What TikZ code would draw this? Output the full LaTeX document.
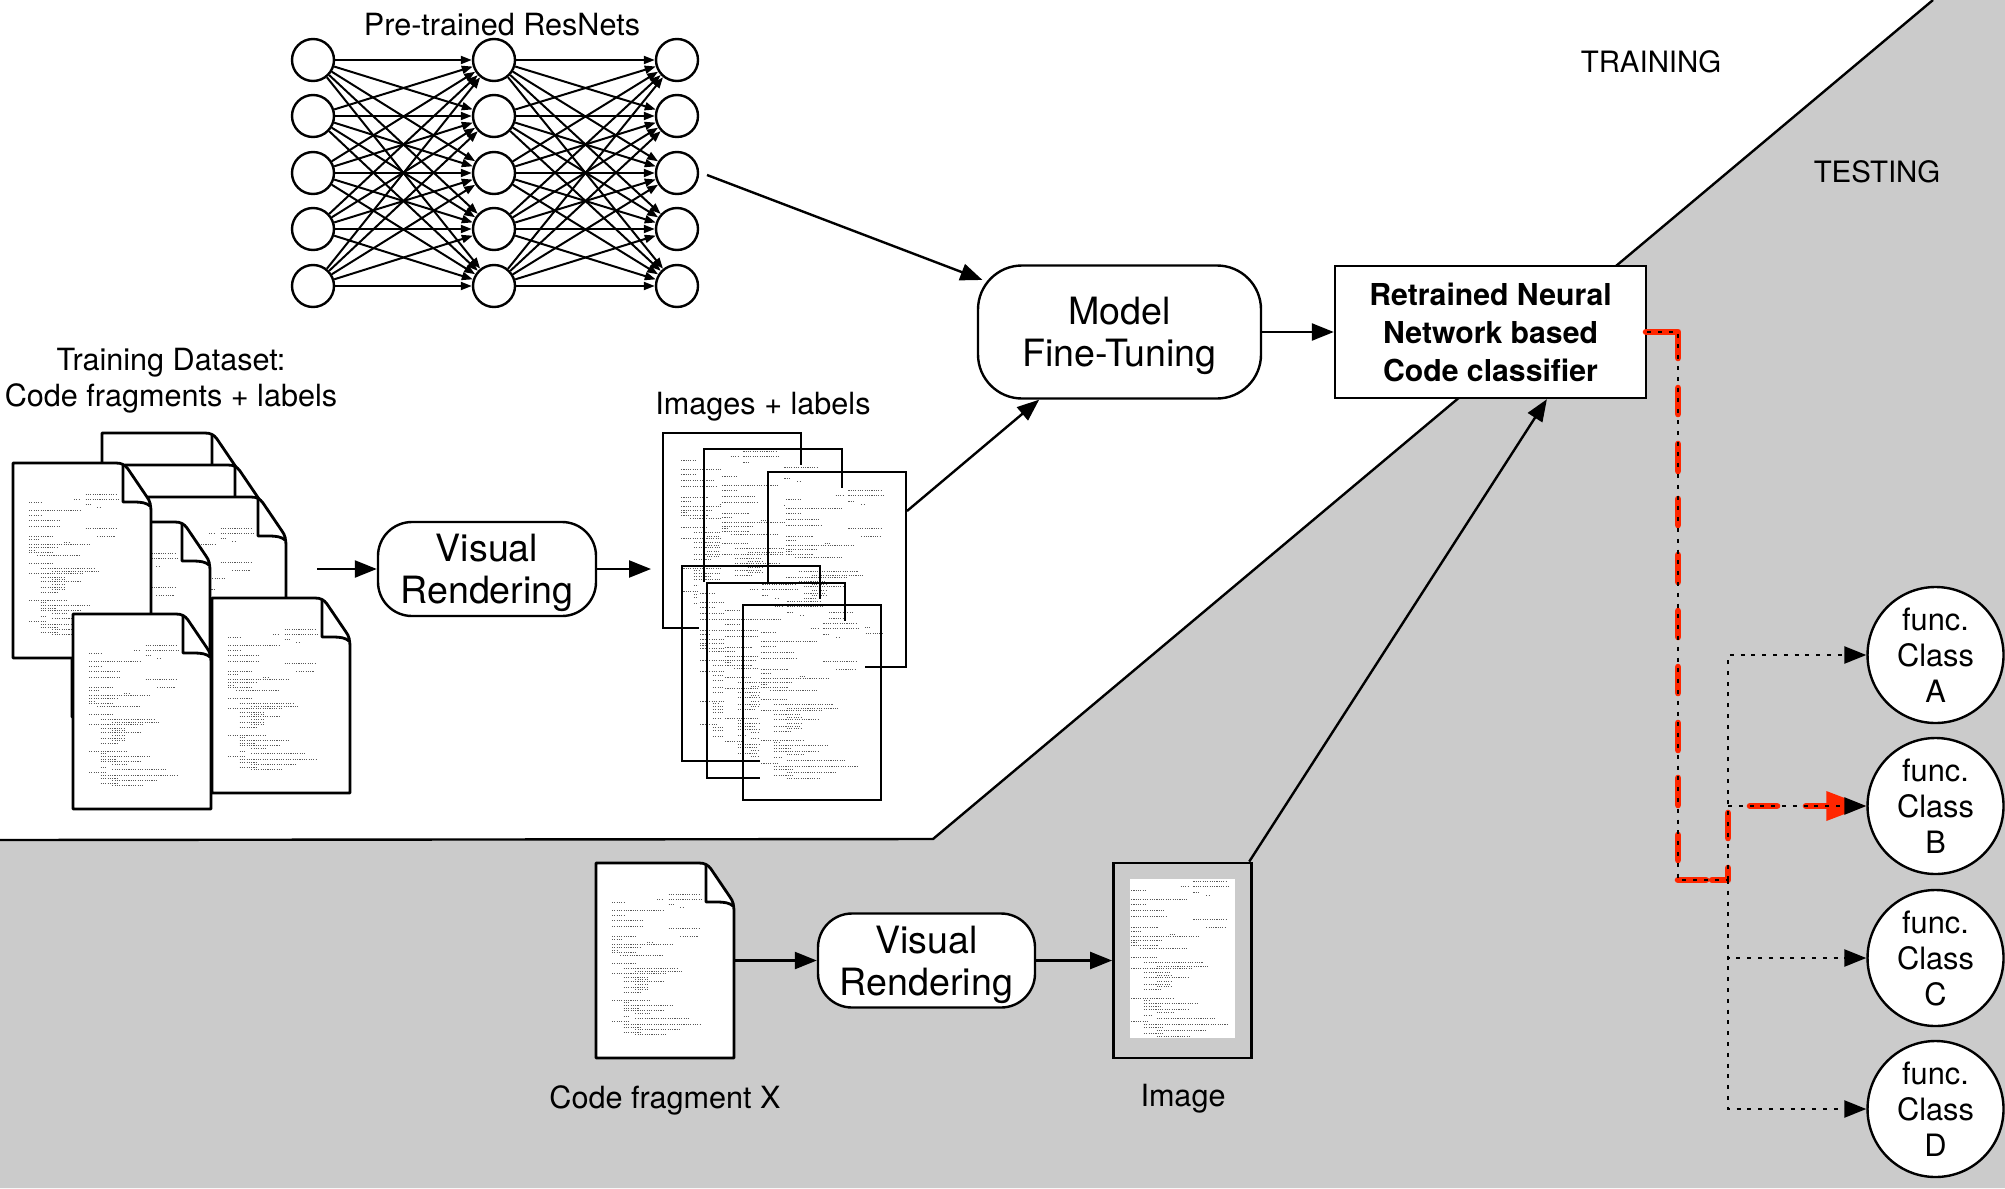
\documentclass[tikz,border=0pt]{standalone}
\usepackage{fontspec}
\setmainfont{TeX Gyre Heros}
\usetikzlibrary{arrows.meta,calc}
\definecolor{bandgray}{RGB}{203,203,203}
\definecolor{pathred}{RGB}{255,38,0}
\newcommand{\lowerstrut}{\rule{0pt}{17.6pt}}
\tikzset{
  txt/.style={inner sep=0pt,font=\fontsize{15.3}{18}\selectfont,align=center},
  zonetxt/.style={inner sep=0pt,font=\fontsize{14.7}{18}\selectfont},
  bigtxt/.style={font=\fontsize{18.8}{21}\selectfont,align=center},
  softbox/.style={draw,fill=white,line width=1.2pt,rounded corners=17pt,inner sep=0pt},
  conn/.style={line width=1.2pt,-{Triangle[length=11pt,width=8.5pt]}},
  netlink/.style={line width=1pt,-{Triangle[length=5.5pt,width=4pt]}},
  neuron/.style={circle,draw,fill=white,line width=1.2pt,minimum size=21pt,inner sep=0pt},
  classnode/.style={circle,draw,fill=white,line width=1.2pt,minimum size=68pt,inner sep=0pt,font=\fontsize{15.4}{18}\selectfont,align=center},
  pagestroke/.style={line width=1.4pt,line join=round},
  codeink/.style={line width=0.35pt,black!65,dash pattern=on 0.55pt off 0.6pt},
  dotline/.style={line width=1.2pt,dash pattern=on 2pt off 3.4pt},
  dotarrow/.style={dotline,-{Triangle[length=11pt,width=8.5pt,sep=0pt]}},
  redline/.style={pathred,line width=3.3pt,line cap=round,line join=round},
}
\newcommand{\codemarks}{%
  \foreach \v/\a/\b in {627/855/945,641/820/840,641/855/955,651/685/725,657/855/870,665/890/900,675/685/840,690/685/725,705/685/775,722/685/780,730/855/945,752/685/760,752/890/945,762/685/715,770/790/805,776/685/870,786/685/770,794/685/700,800/685/760,810/710/840,833/685/755,848/720/880,857/755/895,864/685/850,875/720/790,882/755/795,888/720/840,898/755/795,906/720/790,913/755/795,920/720/770,945/685/800,952/720/735,960/720/865,968/720/765,975/720/840,983/755/800,992/720/740,999/755/915,1008/685/735,1017/720/950,1025/720/775,1033/755/890,1041/720/775,1048/755/845}
  {\draw[codeink] ({(\a-637)/3},{(\v-533)/3}) -- ({(\b-637)/3},{(\v-533)/3});}%
}
\newcommand{\docpage}[2]{%
  \begin{scope}[shift={(#1,#2)}]
    \fill[white] (0,0) -- (103,0) .. controls (109,0) and (112,2) .. (115,6) -- (134,34) .. controls (137,38) and (138,42) .. (138,50) -- (138,195) -- (0,195) -- cycle;
    \codemarks
    \draw[pagestroke] (0,0) -- (103,0) .. controls (109,0) and (112,2) .. (115,6) -- (134,34) .. controls (137,38) and (138,42) .. (138,50) -- (138,195) -- (0,195) -- cycle;
    \draw[pagestroke] (110,1) -- (110,39) -- (122,39) .. controls (128,39) and (134,40) .. (137,43);
  \end{scope}%
}
\newcommand{\imgpage}[2]{%
  \begin{scope}[shift={(#1,#2)}]
    \draw[pagestroke,line join=miter] (0,0) rectangle (138,195);
    \fill[white] (17,16) rectangle (122,175);
    \begin{scope}[shift={(17,16)},scale=1.1,shift={(-15,-29)}]
      \codemarks
    \end{scope}
  \end{scope}%
}
\begin{document}
\begin{tikzpicture}[x=0.5pt,y=-0.5pt]
\useasboundingbox (0,0) rectangle (2005,1188);
% bands
\fill[white] (0,0) rectangle (2005,1188);
\fill[bandgray] (0,840) -- (933,839) -- (1933,0) -- (2005,0) -- (2005,1188) -- (0,1188) -- cycle;
\coordinate (bandA) at (0,840);
\coordinate (bandB) at (933,839);
\coordinate (bandC) at (1933,0);
\draw[line width=1.2pt] (bandA) -- (bandB) -- (bandC);
\node[zonetxt] (training) at (1651,62) {TRAINING};
\node[zonetxt] (testing) at (1877,172) {TESTING};
% network
\foreach \c/\x in {1/313,2/494,3/677}
  \foreach \r/\y in {1/60,2/116,3/173,4/229,5/286}
    \node[neuron] (n\c-\r) at (\x,\y) {};
\foreach \i in {1,...,5}
  \foreach \j in {1,...,5} {
    \draw[netlink] (n1-\i) -- (n2-\j);
    \draw[netlink] (n2-\i) -- (n3-\j);
  }
\node[txt] (nettitle) at (502,25) {Pre-trained ResNets};
\node[txt] (dstitle) at (171,381) {Training Dataset:\\Code fragments + labels};
\node[txt] (imgtitle) at (763,407) {Images + labels};
% training documents
\docpage{102}{433}
\docpage{125}{465}
\docpage{148}{497}
\docpage{72}{522}
\docpage{13}{463}
\docpage{212}{598}
\docpage{73}{614}
\coordinate (docsOut) at (317,569);
% training images
\imgpage{663}{433}
\imgpage{704}{449}
\imgpage{768}{472}
\imgpage{682}{566}
\imgpage{707}{583}
\imgpage{743}{605}
\coordinate (imagesOut) at (907,511);
\coordinate (imagesIn) at (651,569);
% boxes
\node[softbox,bigtxt,minimum width=109pt,minimum height=47pt] (vrTop) at (487,569) {\lowerstrut Visual\\Rendering};
\node[softbox,bigtxt,minimum width=141.5pt,minimum height=66.5pt,rounded corners=22pt] (model) at (1119.5,332) {\lowerstrut Model\\Fine-Tuning};
\node[draw,fill=white,line width=1.2pt,minimum width=155.5pt,minimum height=66pt,inner sep=0pt,font=\fontsize{15.1}{19}\selectfont\bfseries,align=center] (clf) at (1490.5,332) {Retrained Neural\\Network based\\Code classifier};
\node[softbox,bigtxt,minimum width=108.5pt,minimum height=47pt] (vrBot) at (926.5,960.5) {\lowerstrut Visual\\Rendering};
% testing document and image
\docpage{596}{863}
\coordinate (docXOut) at (734,960.5);
\node[draw,line width=1.4pt,minimum width=69pt,minimum height=97.5pt,inner sep=0pt] (img) at (1182.5,960.5) {};
\fill[white] (1130,879) rectangle (1235,1038);
\begin{scope}[shift={(1130,879)},scale=1.1,shift={(-15,-29)}]
  \codemarks
\end{scope}
\node[txt] (xlabel) at (665,1100) {Code fragment X};
\node[txt] (imglabel) at (1183,1099) {Image};
% classes
\node[classnode] (A) at (1935.5,655) {func.\\Class\\A};
\node[classnode] (B) at (1935.5,806) {func.\\Class\\B};
\node[classnode] (C) at (1935.5,958) {func.\\Class\\C};
\node[classnode] (D) at (1935.5,1109) {func.\\Class\\D};
% connectors
\coordinate (netOut) at (707,175);
\draw[conn,shorten >=-3pt] (netOut) -- (model);
\draw[conn] (imagesOut) -- (model);
\draw[conn] (model.east) -- (clf.west);
\draw[conn] (docsOut) -- (vrTop.west);
\draw[conn] (vrTop.east) -- (imagesIn);
\draw[conn] (docXOut) -- (vrBot.west);
\draw[conn] (vrBot.east) -- (img.west);
\draw[conn] (img.56.5) -- (clf.-50.5);
% red highlighted route
\coordinate (r1) at (1646,332);
\coordinate (r2) at (1678,332);
\coordinate (r3) at (1678,880);
\coordinate (r4) at (1728,880);
\coordinate (r5) at (1728,806);
\draw[redline] (r1) -- (r2) -- (1678,358);
\foreach \s/\e in {388/414,444/471,499/525,555/582,611/637,667/693,723/750,778/805,835/860}
  \draw[redline] (1678,\s) -- (1678,\e);
\draw[redline] (1678,880) -- (1706,880);
\draw[redline] (1712,880) -- (r4) -- (1728,868);
\draw[redline] (1728,838) -- (1728,813);
\draw[redline] (1750,806) -- (1777,806);
\draw[redline,-{Triangle[length=20pt,width=14pt]}] (1806,806) -- (B.west);
% dotted routes
\draw[dotline] (clf.east) -- (r2) -- (r3) -- (r4);
\draw[dotarrow] (r4) |- (A);
\draw[dotarrow] (r5) -- (B);
\draw[dotarrow] (r4) |- (C);
\draw[dotarrow] (r4) |- (D);
\end{tikzpicture}
\end{document}
